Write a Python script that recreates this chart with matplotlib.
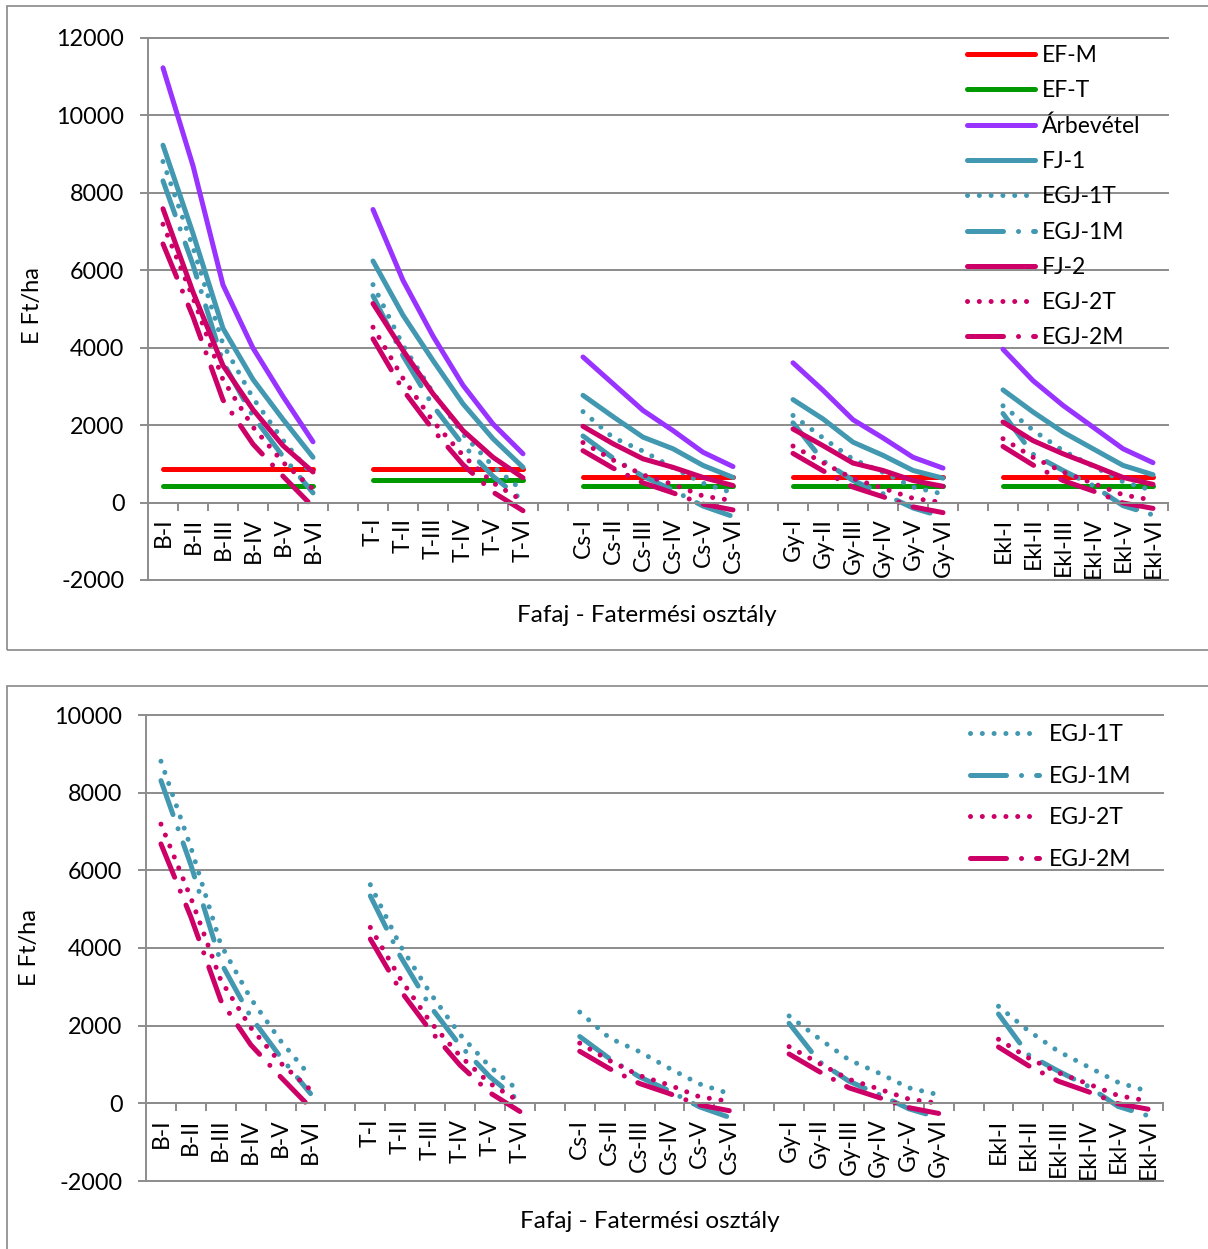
import numpy as np
import matplotlib
matplotlib.use('Agg')
import matplotlib.pyplot as plt
from matplotlib.patches import Rectangle

plt.rcParams['font.family'] = ['Lato', 'DejaVu Sans']
plt.rcParams['axes.unicode_minus'] = False

# Fafaj és fatermési osztály
species = ['B', 'T', 'Cs', 'Gy', 'Ekl']
classes = ['I', 'II', 'III', 'IV', 'V', 'VI']

# E Ft/ha, six site classes per species (B, T, Cs, Gy, Ekl)
ef_m = [870, 870, 870, 870, 870, 870,
        870, 870, 870, 870, 870, 870,
        650, 650, 650, 650, 650, 650,
        650, 650, 650, 650, 650, 650,
        650, 650, 650, 650, 650, 650]
ef_t = [420, 420, 420, 420, 420, 420,
        590, 590, 590, 590, 590, 590,
        420, 420, 420, 420, 420, 420,
        420, 420, 420, 420, 420, 420,
        420, 420, 420, 420, 420, 420]
arbevetel = [11230, 8700, 5620, 3990, 2740, 1570,
             7570, 5740, 4300, 3030, 2030, 1260,
             3760, 3070, 2380, 1860, 1300, 930,
             3610, 2900, 2140, 1670, 1170, 890,
             3960, 3150, 2510, 1950, 1390, 1030]
fj_1 = [9230, 6950, 4500, 3180, 2150, 1170,
        6240, 4840, 3670, 2550, 1650, 910,
        2770, 2220, 1690, 1390, 960, 650,
        2660, 2160, 1560, 1220, 830, 630,
        2910, 2340, 1820, 1390, 960, 720]
egj_1t = [8810, 6590, 4090, 2700, 1610, 690,
          5630, 4060, 2840, 1770, 940, 300,
          2350, 1680, 1330, 900, 500, 250,
          2250, 1670, 1120, 780, 400, 220,
          2500, 1870, 1340, 940, 540, 310]
egj_1m = [8310, 6140, 3630, 2230, 1190, 250,
          5340, 3790, 2500, 1490, 680, 50,
          1720, 1150, 680, 320, -90, -360,
          2060, 1080, 570, 230, -140, -370,
          2300, 1250, 830, 440, -80, -320]
fj_2 = [7590, 5440, 3540, 2400, 1470, 790,
        5140, 3930, 2810, 1860, 1170, 640,
        1970, 1520, 1130, 910, 650, 440,
        1900, 1470, 1020, 830, 570, 420,
        2080, 1600, 1260, 960, 650, 470]
egj_2t = [7190, 5290, 3170, 1950, 1040, 350,
          4530, 3210, 2100, 1220, 510, 40,
          1550, 1100, 715, 470, 170, 50,
          1460, 1030, 620, 370, 110, 0,
          1650, 1170, 790, 500, 200, 60]
egj_2m = [6680, 4800, 2650, 1510, 680, -110,
          4230, 2910, 1880, 980, 270, -210,
          1340, 890, 510, 250, -40, -190,
          1270, 820, 400, 150, -110, -260,
          1450, 970, 570, 300, -10, -150]

RED = '#FF0000'
GREEN = '#009A00'
PURPLE = '#9933FF'
TEAL = '#4198B0'
MAGENTA = '#CC0066'
GRID = '#8C8C8C'

LW = 3.6
SOLID = '-'
DOTTED = (0, (0.01, 2.35))
DASHDOT = (0, (7.2, 3.0, 0.01, 3.0))

# one empty slot between species groups
n_slots = len(species) * (len(classes) + 1) - 1
positions = [g * (len(classes) + 1) + c for g in range(len(species)) for c in range(len(classes))]
tick_labels = [f'{s}-{c}' for s in species for c in classes]


def with_gaps(values):
    y = np.full(n_slots, np.nan)
    y[positions] = values
    return y


def draw_series(ax, values, color, style, label):
    ax.plot(np.arange(n_slots), with_gaps(values), color=color, lw=LW, linestyle=style,
            solid_capstyle='round', dash_capstyle='round', label=label)


def style_axes(ax, ymax):
    ax.set_xlim(-0.5, n_slots - 0.5)
    ax.set_ylim(-2000, ymax)
    ax.set_yticks(range(-2000, ymax + 1, 2000))
    ax.yaxis.grid(True, color=GRID, lw=1.4)
    ax.set_axisbelow(True)
    for gl in ax.get_ygridlines():
        gl.set_clip_on(False)
    ax.spines['bottom'].set_position(('data', 0))
    ax.spines['top'].set_visible(False)
    ax.spines['right'].set_visible(False)
    for s in ['left', 'bottom']:
        ax.spines[s].set_color(GRID)
        ax.spines[s].set_linewidth(1.4)
    ax.set_xticks(positions)
    ax.set_xticklabels(tick_labels)
    plt.setp(ax.get_xticklabels(), rotation=90, va='top', ha='center')
    ax.set_xticks(np.arange(0.5, n_slots, 1.0), minor=True)
    ax.tick_params(axis='x', which='major', length=0, pad=11, labelsize=16.5)
    ax.tick_params(axis='x', which='minor', length=6, width=1.4, color=GRID, direction='out')
    ax.tick_params(axis='y', length=6, width=1.4, color=GRID, pad=11, labelsize=16.8)


W, H = 1208, 1249
fig = plt.figure(figsize=(W / 100, H / 100), dpi=100)

# chart frames
for (x0, y0, x1, y1) in [(7, 6, 1215, 650), (7, 686, 1215, 1260)]:
    fig.patches.append(Rectangle((x0 / W, 1 - y1 / H), (x1 - x0) / W, (y1 - y0) / H,
                                 transform=fig.transFigure, fill=False,
                                 edgecolor='#898989', lw=1.2))

# upper chart: revenue, costs and profits
ax1 = fig.add_axes([148 / W, 1 - 580 / H, 1020 / W, 542 / H])
draw_series(ax1, ef_m, RED, SOLID, 'EF-M')
draw_series(ax1, ef_t, GREEN, SOLID, 'EF-T')
draw_series(ax1, arbevetel, PURPLE, SOLID, 'Árbevétel')
draw_series(ax1, fj_1, TEAL, SOLID, 'FJ-1')
draw_series(ax1, egj_1t, TEAL, DOTTED, 'EGJ-1T')
draw_series(ax1, egj_1m, TEAL, DASHDOT, 'EGJ-1M')
draw_series(ax1, fj_2, MAGENTA, SOLID, 'FJ-2')
draw_series(ax1, egj_2t, MAGENTA, DOTTED, 'EGJ-2T')
draw_series(ax1, egj_2m, MAGENTA, DASHDOT, 'EGJ-2M')
style_axes(ax1, 12000)
ax1.legend(loc='upper left', bbox_to_anchor=(967 / W, 1 - 45 / H), bbox_transform=fig.transFigure,
           frameon=False, fontsize=16.5, handlelength=2.95, handletextpad=0.3,
           labelspacing=0.62, borderpad=0, borderaxespad=0)
fig.text(33 / W, 1 - 306 / H, 'E Ft/ha', rotation=90, ha='center', va='center', fontsize=17)
fig.text(647 / W, 1 - 615 / H, 'Fafaj - Fatermési osztály', ha='center', va='center', fontsize=17.5)

# lower chart: profit variants only
ax2 = fig.add_axes([146 / W, 1 - 1181 / H, 1017 / W, 466 / H])
draw_series(ax2, egj_1t, TEAL, DOTTED, 'EGJ-1T')
draw_series(ax2, egj_1m, TEAL, DASHDOT, 'EGJ-1M')
draw_series(ax2, egj_2t, MAGENTA, DOTTED, 'EGJ-2T')
draw_series(ax2, egj_2m, MAGENTA, DASHDOT, 'EGJ-2M')
style_axes(ax2, 10000)
ax2.legend(loc='upper left', bbox_to_anchor=(970 / W, 1 - 724 / H), bbox_transform=fig.transFigure,
           frameon=False, fontsize=16.5, handlelength=3.0, handletextpad=0.45,
           labelspacing=0.9, borderpad=0, borderaxespad=0)
fig.text(30 / W, 1 - 948 / H, 'E Ft/ha', rotation=90, ha='center', va='center', fontsize=17)
fig.text(650 / W, 1 - 1222 / H, 'Fafaj - Fatermési osztály', ha='center', va='center', fontsize=17.5)

fig.savefig('out.png', dpi=100)
